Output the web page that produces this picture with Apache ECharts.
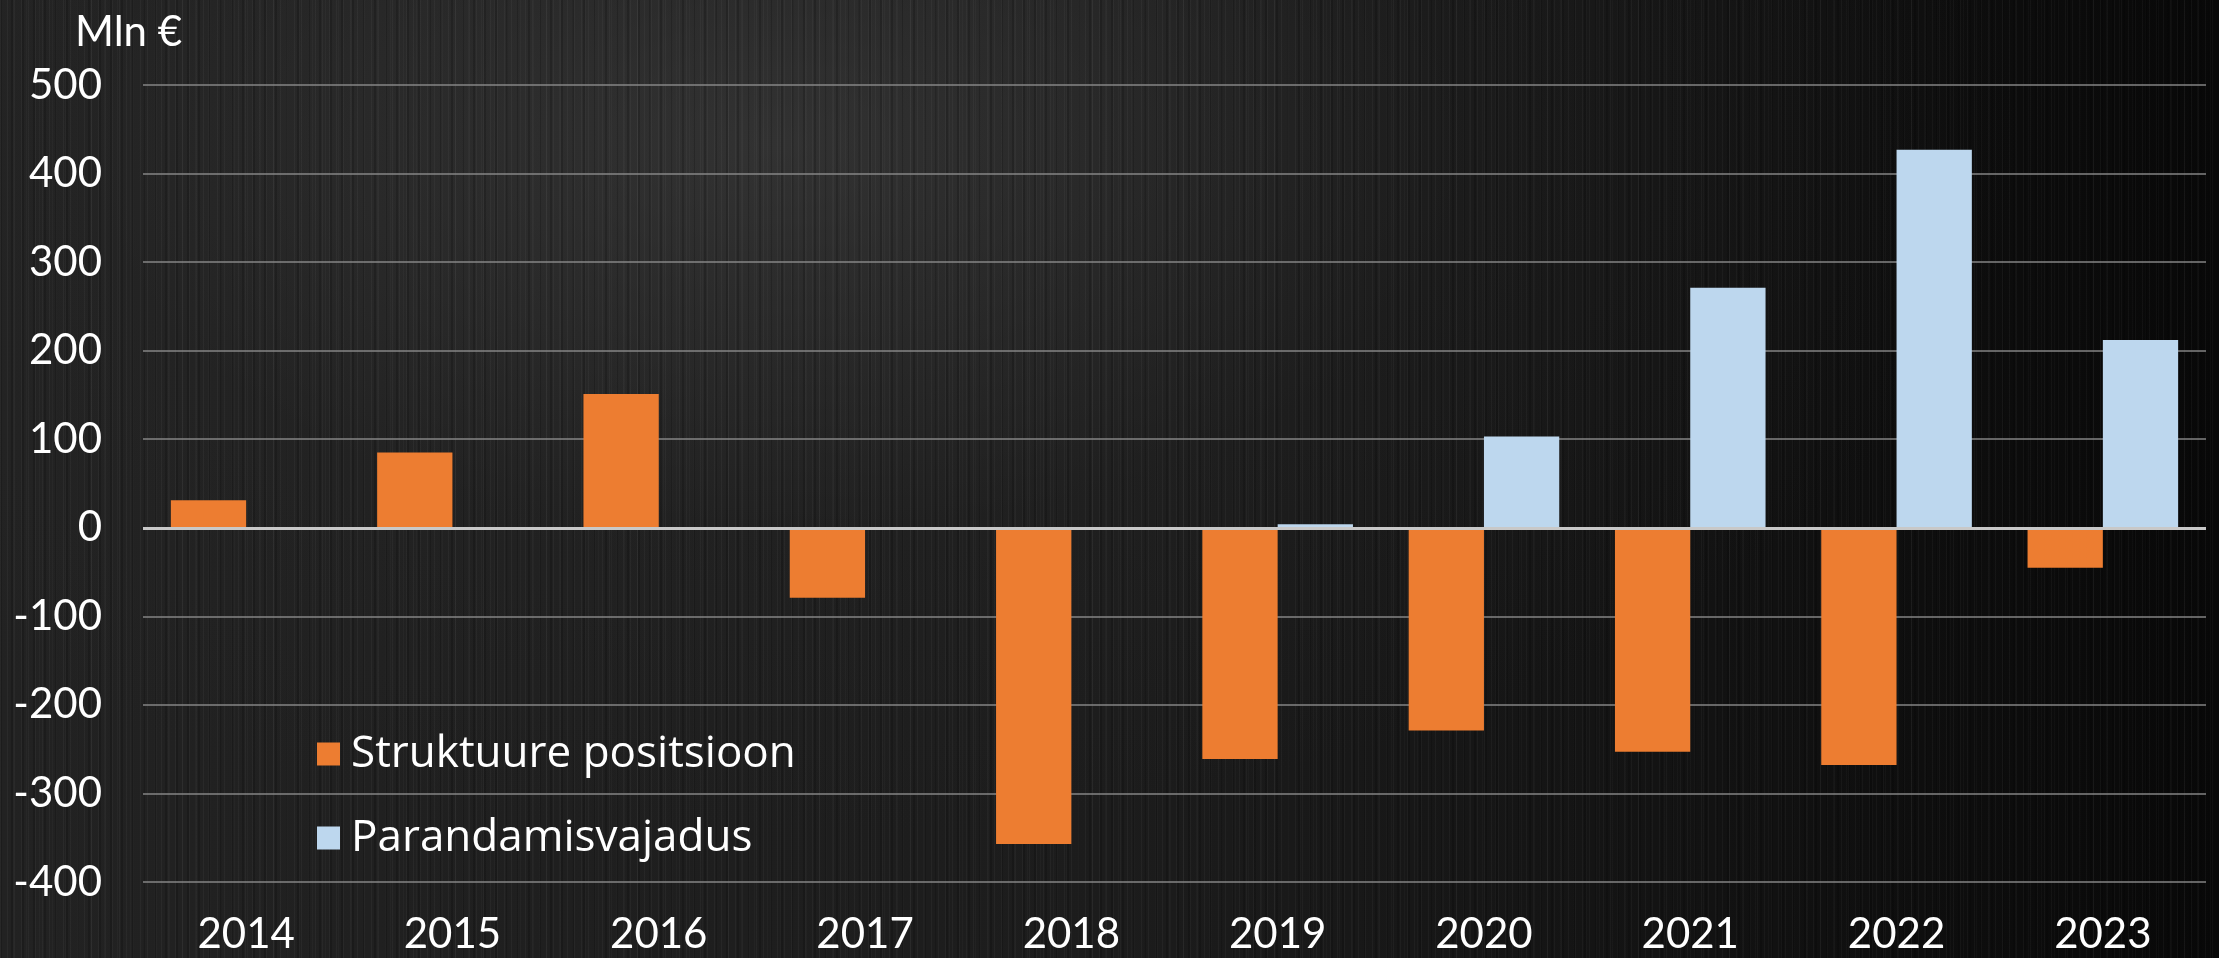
<!DOCTYPE html>
<html>
<head>
<meta charset="utf-8">
<script src="https://cdn.jsdelivr.net/npm/echarts@6/dist/echarts.min.js"></script>
<style>
  html, body { margin: 0; padding: 0; width: 2219px; height: 958px; overflow: hidden; }
  body {
    background:
      repeating-linear-gradient(to right, rgba(255,255,255,0.035) 0px, rgba(255,255,255,0.035) 1px, rgba(0,0,0,0) 1px, rgba(0,0,0,0) 7px),
      repeating-linear-gradient(to right, rgba(0,0,0,0.18) 0px, rgba(0,0,0,0.18) 2px, rgba(0,0,0,0) 2px, rgba(0,0,0,0) 11px),
      repeating-linear-gradient(to right, rgba(255,255,255,0.025) 0px, rgba(255,255,255,0.025) 1px, rgba(0,0,0,0) 1px, rgba(0,0,0,0) 13px),
      radial-gradient(ellipse 70% 90% at 35% 15%, rgba(70,70,70,0.5) 0%, rgba(40,40,40,0.28) 45%, rgba(0,0,0,0) 80%),
      linear-gradient(to right, #222222 0%, #1c1c1c 50%, #111111 80%, #080808 100%);
  }
  #chart { width: 2219px; height: 958px; }
</style>
</head>
<body>
<div id="chart"></div>
<script>
const years = ['2014','2015','2016','2017','2018','2019','2020','2021','2022','2023'];
const strukPos = [31, 85, 151, -79, -357, -261, -229, -253, -268, -45];
const parandVaj = [0, 0, 0, 0, 0, 4, 103, 271, 427, 212];
const seriesNames = ['Struktuure positsioon', 'Parandamisvajadus'];
const yTicks = { min: -400, max: 500, interval: 100 };
const unitLabel = 'Mln €';

const FONT = 'Lato, "DejaVu Sans", sans-serif';
const LEGEND_FONT = '"Open Sans", Lato, sans-serif';
const chart = echarts.init(document.getElementById('chart'), null, { renderer: 'canvas' });
chart.setOption({
  backgroundColor: 'transparent',
  animation: false,
  title: {
    text: unitLabel,
    left: 70, top: 6,
    textStyle: { color: '#ffffff', fontSize: 42, fontWeight: 'normal', fontFamily: FONT }
  },
  grid: { left: 143, right: 13, top: 85, bottom: 76, containLabel: false },
  legend: {
    orient: 'vertical',
    left: 312, top: 727,
    itemWidth: 23, itemHeight: 23,
    itemGap: 40,
    icon: 'rect',
    data: seriesNames,
    textStyle: { color: '#ffffff', fontSize: 44, fontFamily: LEGEND_FONT, padding: [0, 0, 0, 6] }
  },
  xAxis: {
    type: 'category',
    data: years,
    axisLine: { show: false, onZero: false },
    axisTick: { show: false },
    axisLabel: { color: '#ffffff', fontSize: 42, fontFamily: FONT, margin: 31 },
    splitLine: { show: false }
  },
  yAxis: {
    type: 'value',
    min: yTicks.min, max: yTicks.max, interval: yTicks.interval,
    axisLine: { show: false },
    axisTick: { show: false },
    axisLabel: { color: '#ffffff', fontSize: 42, fontFamily: FONT, margin: 41 },
    splitLine: { lineStyle: { color: 'rgba(140,140,140,0.7)', width: 2 } }
  },
  series: [
    {
      name: seriesNames[0],
      type: 'bar',
      data: strukPos,
      barGap: '0%',
      barCategoryGap: '27%',
      itemStyle: { color: '#ED7D31' },
      markLine: {
        silent: true,
        symbol: 'none',
        label: { show: false },
        lineStyle: { color: '#c8c8c8', width: 3, type: 'solid' },
        data: [{ yAxis: 0 }],
        z: 10
      }
    },
    {
      name: seriesNames[1],
      type: 'bar',
      data: parandVaj,
      barGap: '0%',
      barCategoryGap: '27%',
      itemStyle: { color: '#BDD7EE' }
    }
  ]
});
</script>
</body>
</html>
